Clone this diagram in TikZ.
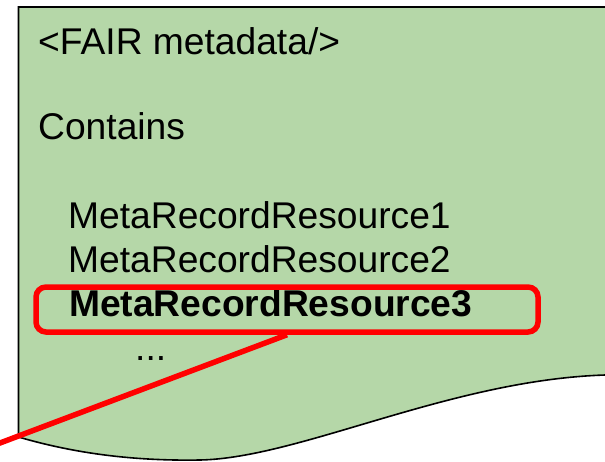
\documentclass[tikz,border=0pt]{standalone}
\usepackage{fontspec}
\setmainfont{Liberation Sans}
\definecolor{docgreen}{HTML}{B5D7A8}
\definecolor{selred}{HTML}{FF0000}
\begin{document}
\begin{tikzpicture}[x=1pt,y=-1pt,
  line/.style={anchor=base west,inner sep=0pt,font=\fontsize{37.2}{44}\selectfont},
  selbox/.style={draw=selred,line width=5.5pt,rounded corners=10pt,
    minimum width=502pt,minimum height=45pt,inner sep=0pt},
  pointer/.style={draw=selred,line width=5.5pt}]
\useasboundingbox (0,0) rectangle (605,461);
% document sheet with a wavy lower edge
\draw[fill=docgreen,line width=1.6pt]
  (18.5,7) -- (640,7) -- (640,374)
  .. controls (625,374) and (615,375) .. (605,375)
  .. controls (450,380) and (300,458) .. (200,460)
  .. controls (140,461) and (80,455) .. (18.5,437) -- cycle;
% text lines
\node[line] (title) at (38,54) {<FAIR metadata/>};
\node[line] (contains) at (38,139) {Contains};
\node[line] (r1) at (68,228) {MetaRecordResource1};
\node[line] (r2) at (68,272.5) {MetaRecordResource2};
\node[line,font=\fontsize{37.2}{44}\selectfont\bfseries] (r3) at (69,316) {MetaRecordResource3};
\node[line] (more) at (135,360) {...};
% highlight and pointer
\node[selbox] (sel) at (287,309.5) {};
\coordinate (free) at (-8,446);
\draw[pointer] (sel.south) -- (free);
\end{tikzpicture}
\end{document}
